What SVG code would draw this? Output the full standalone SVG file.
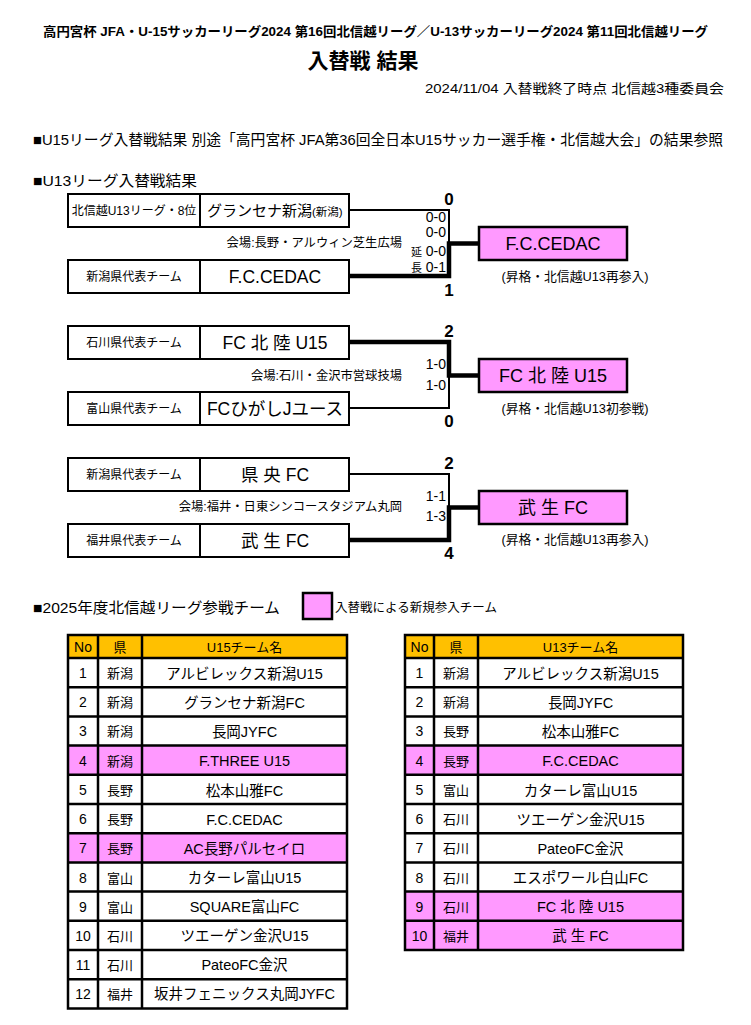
<svg xmlns="http://www.w3.org/2000/svg" width="751" height="1025" viewBox="0 0 751 1025">
<style>
text{font-family:"Liberation Sans","Noto Sans CJK JP",sans-serif;fill:#000}
.box{fill:#fff;stroke:#000;stroke-width:2}
.win{fill:#FF99FF;stroke:#000;stroke-width:2.5}
.lbl{font-size:12px;text-anchor:middle}
.team{font-size:17.5px;text-anchor:middle}
.wtx{font-size:18px;text-anchor:middle}
.venue{font-size:12.3px;text-anchor:end}
.sc{font-size:14px;text-anchor:end}
.big{font-size:17px;font-weight:bold;text-anchor:middle}
.note{font-size:12.8px;text-anchor:middle}
.thin{stroke:#000;stroke-width:2;fill:none}
.thick{stroke:#000;stroke-width:4.5;fill:none}
.hd{fill:#FFC000}
.pk{fill:#FF99FF}
.wt{fill:#fff}
.grid{stroke:#000;stroke-width:2.5;fill:none}
.c{text-anchor:middle}
.tn{font-size:14px}
.tp{font-size:13px}
.tt{font-size:14.5px}
</style>
<rect width="751" height="1025" fill="#fff"/>
<g id="header">
<text x="375.5" y="36" class="c" font-size="13" font-weight="bold" textLength="665" lengthAdjust="spacingAndGlyphs">高円宮杯 JFA・U-15サッカーリーグ2024 第16回北信越リーグ／U-13サッカーリーグ2024 第11回北信越リーグ</text>
<text x="363" y="68" class="c" font-size="21" font-weight="bold">入替戦 結果</text>
<text x="724" y="93" text-anchor="end" font-size="13" textLength="299" lengthAdjust="spacingAndGlyphs">2024/11/04 入替戦終了時点  北信越3種委員会</text>
<text x="33" y="145" font-size="15" textLength="690" lengthAdjust="spacingAndGlyphs">■U15リーグ入替戦結果  別途「高円宮杯 JFA第36回全日本U15サッカー選手権・北信越大会」の結果参照</text>
<text x="33" y="186" font-size="15" textLength="164" lengthAdjust="spacingAndGlyphs">■U13リーグ入替戦結果</text>
</g>
<g id="connectors">
<polyline class="thin" points="349,210 449,210 449,244"/>
<polyline class="thick" points="349,276 449,276 449,243.5 479,243.5"/>
<polyline class="thick" points="349,342 449,342 449,375.5 479,375.5"/>
<polyline class="thin" points="349,408 449,408 449,375"/>
<polyline class="thin" points="349,474 449,474 449,507"/>
<polyline class="thick" points="349,540 449,540 449,507.5 479,507.5"/>
</g>
<g id="match1">
<rect class="box" x="68" y="194" width="132" height="33"/>
<rect class="box" x="200" y="194" width="149" height="33"/>
<text class="lbl" x="134" y="215">北信越U13リーグ・8位</text>
<text x="207" y="216" font-size="15">グランセナ新潟<tspan font-size="11.5">(新潟)</tspan></text>
<rect class="box" x="68" y="260" width="132" height="33"/>
<rect class="box" x="200" y="260" width="149" height="33"/>
<text class="lbl" x="134" y="281">新潟県代表チーム</text>
<text class="team" x="275" y="283">F.C.CEDAC</text>
<text class="big" x="449" y="205">0</text>
<text class="big" x="449" y="296">1</text>
<text class="sc" x="446" y="222">0-0</text>
<text class="sc" x="446" y="237">0-0</text>
<text class="sc" x="446" y="256"><tspan font-size="11">延</tspan> 0-0</text>
<text class="sc" x="446" y="272"><tspan font-size="11">長</tspan> 0-1</text>
<text class="venue" x="402" y="247">会場:長野・アルウィン芝生広場</text>
<rect class="win" x="479" y="227" width="148" height="33"/>
<text class="wtx" x="553" y="250">F.C.CEDAC</text>
<text class="note" x="575" y="281">(昇格・北信越U13再参入)</text>
</g>
<g id="match2">
<rect class="box" x="68" y="326" width="132" height="33"/>
<rect class="box" x="200" y="326" width="149" height="33"/>
<text class="lbl" x="134" y="347">石川県代表チーム</text>
<text class="team" x="275" y="349">FC 北 陸 U15</text>
<rect class="box" x="68" y="392" width="132" height="33"/>
<rect class="box" x="200" y="392" width="149" height="33"/>
<text class="lbl" x="134" y="413">富山県代表チーム</text>
<text class="team" x="275" y="415">FCひがしJユース</text>
<text class="big" x="449" y="337">2</text>
<text class="big" x="449" y="427">0</text>
<text class="sc" x="446" y="369">1-0</text>
<text class="sc" x="446" y="390">1-0</text>
<text class="venue" x="402" y="380">会場:石川・金沢市営球技場</text>
<rect class="win" x="479" y="359" width="148" height="33"/>
<text class="wtx" x="553" y="382">FC 北 陸 U15</text>
<text class="note" x="575" y="413">(昇格・北信越U13初参戦)</text>
</g>
<g id="match3">
<rect class="box" x="68" y="458" width="132" height="33"/>
<rect class="box" x="200" y="458" width="149" height="33"/>
<text class="lbl" x="134" y="479">新潟県代表チーム</text>
<text class="team" x="275" y="481">県 央 FC</text>
<rect class="box" x="68" y="524" width="132" height="33"/>
<rect class="box" x="200" y="524" width="149" height="33"/>
<text class="lbl" x="134" y="545">福井県代表チーム</text>
<text class="team" x="275" y="547">武 生 FC</text>
<text class="big" x="449" y="469">2</text>
<text class="big" x="449" y="559">4</text>
<text class="sc" x="446" y="501">1-1</text>
<text class="sc" x="446" y="521">1-3</text>
<text class="venue" x="402" y="511">会場:福井・日東シンコースタジアム丸岡</text>
<rect class="win" x="479" y="491" width="148" height="33"/>
<text class="wtx" x="553" y="514">武 生 FC</text>
<text class="note" x="575" y="544">(昇格・北信越U13再参入)</text>
</g>
<g id="legend">
<text x="33" y="613" font-size="15" textLength="247" lengthAdjust="spacingAndGlyphs">■2025年度北信越リーグ参戦チーム</text>
<rect x="303" y="593" width="29" height="26" fill="#FF99FF" stroke="#000" stroke-width="2.5"/>
<text x="335" y="612" font-size="12.5" textLength="162" lengthAdjust="spacingAndGlyphs">入替戦による新規参入チーム</text>
</g>
<g id="table-u15">
<rect class="hd" x="68" y="635" width="279" height="23"/>
<rect class="wt" x="68" y="658" width="279" height="350"/>
<rect class="pk" x="68" y="745.6" width="279" height="29.2"/>
<rect class="pk" x="68" y="833.2" width="279" height="29.2"/>
<path class="grid" d="M68,635H347V1008.4H68Z M98,635V1008.4 M142,635V1008.4 M68,658H347 M68,687.2H347 M68,716.4H347 M68,745.6H347 M68,774.8H347 M68,804H347 M68,833.2H347 M68,862.4H347 M68,891.6H347 M68,920.8H347 M68,950H347 M68,979.2H347"/>
<text class="c tn" x="83" y="652">No</text>
<text class="c tp" x="120" y="652">県</text>
<text class="c tp" x="244.5" y="652">U15チーム名</text>
<g class="c">
<text class="tn" x="83" y="678">1</text><text class="tp" x="120" y="678">新潟</text><text class="tt" x="244.5" y="678.5">アルビレックス新潟U15</text>
<text class="tn" x="83" y="707">2</text><text class="tp" x="120" y="707">新潟</text><text class="tt" x="244.5" y="707.5">グランセナ新潟FC</text>
<text class="tn" x="83" y="736">3</text><text class="tp" x="120" y="736">新潟</text><text class="tt" x="244.5" y="736.5">長岡JYFC</text>
<text class="tn" x="83" y="766">4</text><text class="tp" x="120" y="766">新潟</text><text class="tt" x="244.5" y="766">F.THREE U15</text>
<text class="tn" x="83" y="795">5</text><text class="tp" x="120" y="795">長野</text><text class="tt" x="244.5" y="795.5">松本山雅FC</text>
<text class="tn" x="83" y="824">6</text><text class="tp" x="120" y="824">長野</text><text class="tt" x="244.5" y="824.5">F.C.CEDAC</text>
<text class="tn" x="83" y="853">7</text><text class="tp" x="120" y="853">長野</text><text class="tt" x="244.5" y="853.5">AC長野パルセイロ</text>
<text class="tn" x="83" y="883">8</text><text class="tp" x="120" y="883">富山</text><text class="tt" x="244.5" y="883">カターレ富山U15</text>
<text class="tn" x="83" y="912">9</text><text class="tp" x="120" y="912">富山</text><text class="tt" x="244.5" y="912">SQUARE富山FC</text>
<text class="tn" x="83" y="941">10</text><text class="tp" x="120" y="941">石川</text><text class="tt" x="244.5" y="941">ツエーゲン金沢U15</text>
<text class="tn" x="83" y="970">11</text><text class="tp" x="120" y="970">石川</text><text class="tt" x="244.5" y="970">PateoFC金沢</text>
<text class="tn" x="83" y="999">12</text><text class="tp" x="120" y="999">福井</text><text class="tt" x="244.5" y="999">坂井フェニックス丸岡JYFC</text>
</g>
</g>
<g id="table-u13">
<rect class="hd" x="405" y="635" width="278" height="23"/>
<rect class="wt" x="405" y="658" width="278" height="292"/>
<rect class="pk" x="405" y="745.6" width="278" height="29.2"/>
<rect class="pk" x="405" y="891.6" width="278" height="58.4"/>
<path class="grid" d="M405,635H683V950H405Z M434,635V950 M478,635V950 M405,658H683 M405,687.2H683 M405,716.4H683 M405,745.6H683 M405,774.8H683 M405,804H683 M405,833.2H683 M405,862.4H683 M405,891.6H683 M405,920.8H683"/>
<text class="c tn" x="419.5" y="652">No</text>
<text class="c tp" x="456" y="652">県</text>
<text class="c tp" x="580.5" y="652">U13チーム名</text>
<g class="c">
<text class="tn" x="419.5" y="678">1</text><text class="tp" x="456" y="678">新潟</text><text class="tt" x="580.5" y="678.5">アルビレックス新潟U15</text>
<text class="tn" x="419.5" y="707">2</text><text class="tp" x="456" y="707">新潟</text><text class="tt" x="580.5" y="707.5">長岡JYFC</text>
<text class="tn" x="419.5" y="736">3</text><text class="tp" x="456" y="736">長野</text><text class="tt" x="580.5" y="736.5">松本山雅FC</text>
<text class="tn" x="419.5" y="766">4</text><text class="tp" x="456" y="766">長野</text><text class="tt" x="580.5" y="766">F.C.CEDAC</text>
<text class="tn" x="419.5" y="795">5</text><text class="tp" x="456" y="795">富山</text><text class="tt" x="580.5" y="795.5">カターレ富山U15</text>
<text class="tn" x="419.5" y="824">6</text><text class="tp" x="456" y="824">石川</text><text class="tt" x="580.5" y="824.5">ツエーゲン金沢U15</text>
<text class="tn" x="419.5" y="853">7</text><text class="tp" x="456" y="853">石川</text><text class="tt" x="580.5" y="853.5">PateoFC金沢</text>
<text class="tn" x="419.5" y="883">8</text><text class="tp" x="456" y="883">石川</text><text class="tt" x="580.5" y="883">エスポワール白山FC</text>
<text class="tn" x="419.5" y="912">9</text><text class="tp" x="456" y="912">石川</text><text class="tt" x="580.5" y="912">FC 北 陸 U15</text>
<text class="tn" x="419.5" y="941">10</text><text class="tp" x="456" y="941">福井</text><text class="tt" x="580.5" y="941">武 生 FC</text>
</g>
</g>
</svg>
